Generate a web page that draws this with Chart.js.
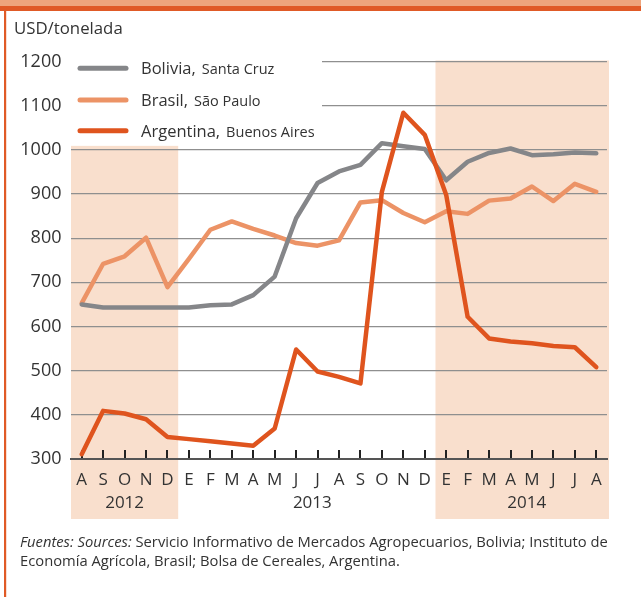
<!DOCTYPE html>
<html><head><meta charset="utf-8">
<script src="https://cdn.jsdelivr.net/npm/chart.js@4/dist/chart.umd.min.js"></script>
<style>
html,body{margin:0;padding:0;background:#fff;}
#wrap{position:relative;width:641px;height:597px;overflow:hidden;font-family:"Open Sans",sans-serif;color:#333;}
canvas{position:absolute;left:0;top:0;}
#unit{position:absolute;left:14px;top:16px;font-size:16.8px;line-height:24px;white-space:nowrap;}
#note{position:absolute;left:20px;top:532px;font-size:14.75px;line-height:19px;white-space:nowrap;}
</style></head>
<body><div id="wrap"><canvas id="c" width="641" height="597"></canvas>
<div id="unit">USD/tonelada</div>
<div id="note"><i>Fuentes: Sources:</i> Servicio Informativo de Mercados Agropecuarios, Bolivia; Instituto de<br>Economía Agrícola, Brasil; Bolsa de Cereales, Argentina.</div>
</div>
<script>
// ---- data ----
const months = ['A','S','O','N','D','E','F','M','A','M','J','J','A','S','O','N','D','E','F','M','A','M','J','J','A'];
const years = ['2012','2013','2014'];
const yearFirstIndex = [0,5,17];
const yearLastIndex = [4,16,24];
const shadedYears = ['2012','2014'];
const seriesMain = ['Bolivia,','Brasil,','Argentina,'];
const seriesSub = ['Santa Cruz','São Paulo','Buenos Aires'];
const bolivia   = [650,643,643,643,643, 643,648,650,671,713,845,925,951,966,1015,1008,1002, 931,973,993,1003,988,990,994,992];
const brasil    = [653,742,759,801,689, 753,819,838,821,806,789,783,795,881,886,857,836, 861,855,885,890,917,884,923,905];
const argentina = [311,409,403,390,350, 345,340,335,330,369,548,498,486,471,905,1084,1034, 898,622,573,566,562,556,553,508];
const yMin = 300, yMax = 1200, yStep = 100;

// ---- styles ----
const colors = ['#858689','#ec9366','#df541e'];
const TEXT = '#333';
const FONT = '"Open Sans", sans-serif';

const deco = {
  id: 'deco',
  beforeDraw(chart) {
    const {ctx, scales: {x, y}} = chart;
    ctx.save();
    ctx.fillStyle = '#eea57c'; ctx.fillRect(0, 0, 641, 6);
    ctx.fillStyle = '#e05a26'; ctx.fillRect(0, 6, 641, 5); ctx.fillRect(4, 6, 2.2, 591);
    ctx.fillStyle = '#f9dfcd';
    years.forEach((yr, i) => {
      if (!shadedYears.includes(yr)) return;
      const x0 = x.getPixelForValue(yearFirstIndex[i] - 0.5);
      const x1 = x.getPixelForValue(yearLastIndex[i] + 0.5) + (i === years.length - 1 ? 2 : 0);
      const top = i === 0 ? y.getPixelForValue(1009) : y.getPixelForValue(yMax) - 1;
      ctx.fillRect(x0, top, x1 - x0, 519 - top);
    });
    ctx.restore();
  },
  beforeDatasetsDraw(chart) {
    const {ctx, scales: {x, y}, chartArea: ca} = chart;
    ctx.save();
    // legend backdrop hides the top grid lines
    ctx.fillStyle = '#fff';
    ctx.fillRect(ca.left, ca.top - 2, 322 - ca.left, y.getPixelForValue(1050) - ca.top + 2);
    // tick marks above the axis
    ctx.strokeStyle = '#222'; ctx.lineWidth = 2;
    for (let i = 0; i < months.length; i++) {
      const px = Math.round(x.getPixelForTick(i));
      ctx.beginPath(); ctx.moveTo(px, ca.bottom - 9); ctx.lineTo(px, ca.bottom - 1); ctx.stroke();
    }
    // year labels
    ctx.fillStyle = TEXT; ctx.font = '17px ' + FONT; ctx.textAlign = 'center'; ctx.textBaseline = 'middle';
    const nudge = [0, 5.5, 5.5];
    years.forEach((yr, i) => {
      const cx = (x.getPixelForValue(yearFirstIndex[i]) + x.getPixelForValue(yearLastIndex[i])) / 2 + nudge[i];
      ctx.fillText(yr, cx, 503.5);
    });
    // legend
    const rows = [68.3, 100, 130.7];
    ctx.textAlign = 'left'; ctx.textBaseline = 'alphabetic';
    seriesMain.forEach((name, i) => {
      ctx.strokeStyle = colors[i]; ctx.lineWidth = 5; ctx.lineCap = 'round';
      ctx.beginPath(); ctx.moveTo(80, rows[i]); ctx.lineTo(126, rows[i]); ctx.stroke();
      ctx.fillStyle = TEXT;
      ctx.font = '16.5px ' + FONT;
      ctx.fillText(name, 141, rows[i] + 5.8);
      const w = ctx.measureText(name).width;
      ctx.font = '14.5px ' + FONT;
      ctx.fillText(seriesSub[i], 141 + w + 6, rows[i] + 5.8);
    });
    ctx.restore();
  }
};

const mk = (data, i, order) => ({
  data, borderColor: colors[i], borderWidth: 4.5, pointRadius: 0, fill: false, tension: 0,
  borderCapStyle: 'round', borderJoinStyle: 'round', order
});

new Chart(document.getElementById('c'), {
  type: 'line',
  data: {
    labels: months,
    datasets: [mk(bolivia, 0, 1), mk(brasil, 1, 2), mk(argentina, 2, 0)]
  },
  options: {
    responsive: false, animation: false, devicePixelRatio: 1,
    layout: {padding: {top: 61.5, right: 34, bottom: 0, left: 0}},
    plugins: {legend: {display: false}, tooltip: {enabled: false}},
    scales: {
      x: {
        offset: true,
        grid: {display: false, drawTicks: false},
        border: {display: true, color: '#555', width: 2},
        ticks: {color: TEXT, font: {family: FONT, size: 17}, padding: 11, autoSkip: false, maxRotation: 0},
        afterFit(s) { s.height = 138; }
      },
      y: {
        min: yMin, max: yMax,
        grid: {color: '#8f8f8f', lineWidth: 1.3, drawTicks: false},
        border: {display: false},
        ticks: {stepSize: yStep, color: TEXT, font: {family: FONT, size: 18}, padding: 9.5,
                callback: v => String(v)},
        afterFit(s) { s.width = 71; }
      }
    }
  },
  plugins: [deco]
});
</script>
</body></html>
